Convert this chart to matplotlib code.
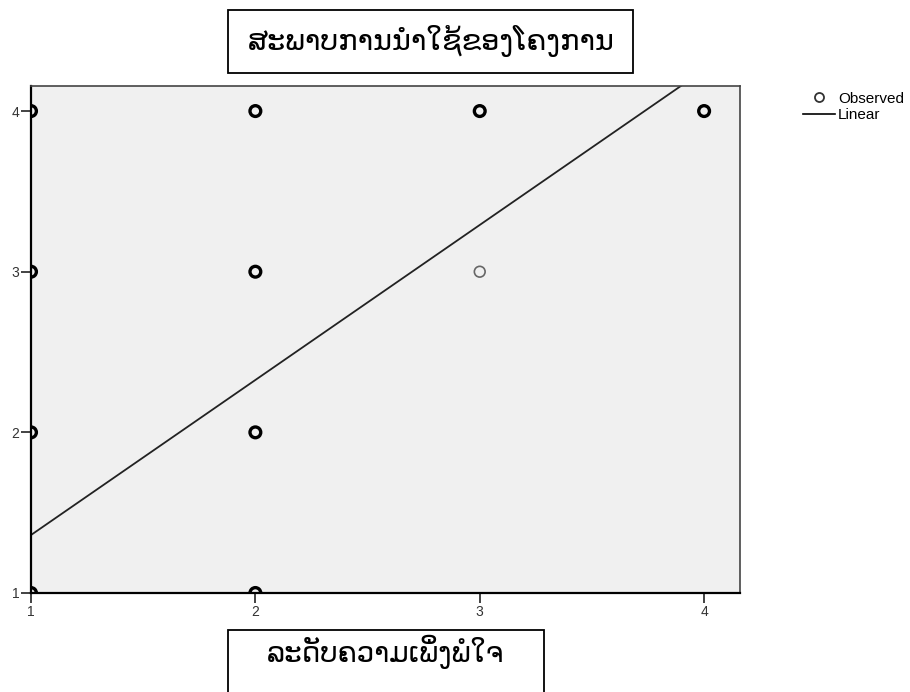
import numpy as np
import matplotlib.pyplot as plt
from matplotlib.lines import Line2D
from matplotlib.patches import Rectangle

# observed points (x = satisfaction level, y = usage status)
obs_x = [1, 1, 1, 1, 2, 2, 2, 2, 3, 4]
obs_y = [4, 3, 2, 1, 4, 3, 2, 1, 4, 4]
single_x = [3]
single_y = [3]

# fitted linear model
fit_intercept = 0.396
fit_slope = 0.965

title_text = 'ສະພາບການນຳໃຊ້ຂອງໂຄງການ'
xlabel_text = 'ລະດັບຄວາມເພິ່ງພໍໃຈ'
ticks = [1, 2, 3, 4]

W, H = 910, 692
fig = plt.figure(figsize=(W / 100, H / 100), dpi=100)
ax = fig.add_axes([31 / W, 1 - 593 / H, (740 - 31) / W, (593 - 86) / H])
ax.set_facecolor('#f0f0f0')

ax.set_xlim(1, 4.16)
ax.set_ylim(1, 4.156)

xs = np.array([1, 4.16])
ax.plot(xs, fit_intercept + fit_slope * xs, color='#222222', lw=1.3, zorder=2)

ax.scatter(obs_x, obs_y, s=60, facecolors='none', edgecolors='black', linewidths=2.4, zorder=3)
ax.scatter(single_x, single_y, s=60, facecolors='none', edgecolors='#666666', linewidths=1.2, zorder=3)

ax.set_xticks(ticks)
ax.set_yticks(ticks)
for lab in ax.get_xticklabels() + ax.get_yticklabels():
    lab.set_family('Liberation Sans')
ax.tick_params(direction='out', length=7.5, width=1.2, labelsize=10, pad=1,
               color='#222222', labelcolor='#333333')
for side in ['left', 'bottom']:
    ax.spines[side].set_linewidth(1.6)
for side in ['top', 'right']:
    ax.spines[side].set_linewidth(1.2)
    ax.spines[side].set_color('#444444')


def box(x0, y0, x1, y1):
    fig.patches.append(Rectangle((x0 / W, 1 - y1 / H), (x1 - x0) / W, (y1 - y0) / H,
                                 transform=fig.transFigure, facecolor='white',
                                 edgecolor='black', lw=1.3))


box(228, 10, 633, 73)
box(228, 630, 544, 700)
fig.text(431 / W, 1 - 41 / H, title_text, ha='center', va='center', fontsize=20.6,
         family=['DejaVu Sans', 'Noto Sans'], zorder=5)
fig.text(385 / W, 1 - 652 / H, xlabel_text, ha='center', va='center', fontsize=20,
         family=['DejaVu Sans', 'Noto Sans'], zorder=5)

handles = [
    Line2D([], [], marker='o', ls='none', mfc='none', mec='#333333', mew=1.3, ms=6.5),
    Line2D([], [], color='black', lw=1.2),
]
fig.legend(handles, ['Observed', 'Linear'], loc='upper left', bbox_to_anchor=(795 / W, 1 - 84 / H),
           frameon=False, prop={'family': 'Liberation Sans', 'size': 11},
           handlelength=2.1, handletextpad=0.2, labelspacing=0.15, borderpad=0)

fig.savefig('out.png', dpi=100)
